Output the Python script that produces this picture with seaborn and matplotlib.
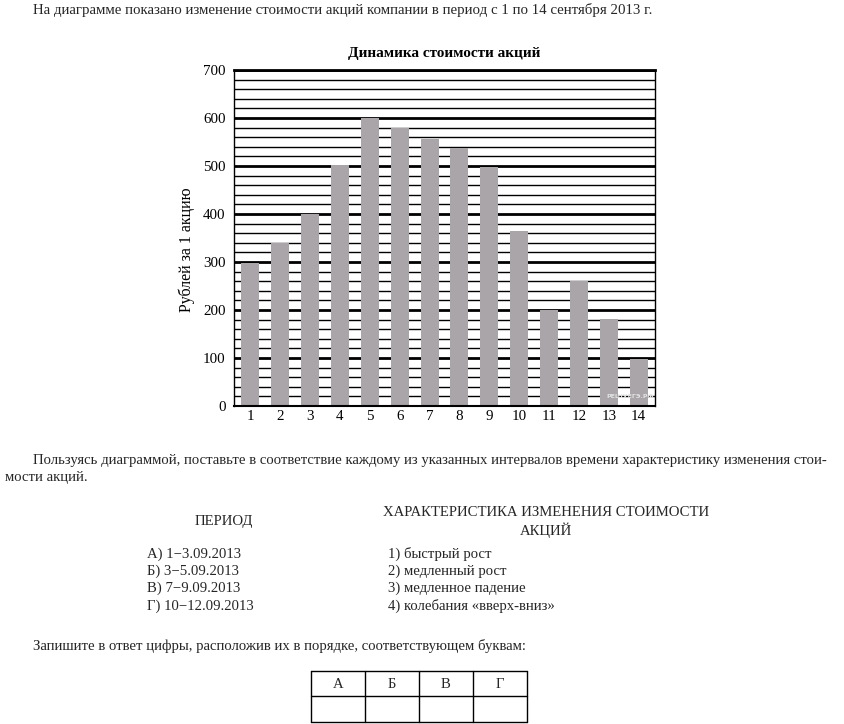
import matplotlib
matplotlib.use("Agg")
import matplotlib.pyplot as plt
from matplotlib.lines import Line2D
import seaborn as sns
import pandas as pd
import numpy as np

days = [str(i) for i in range(1, 15)]
prices = [298, 340, 400, 502, 600, 580, 557, 537, 498, 364, 200, 260, 181, 97]
y_major = list(range(0, 701, 100))
y_minor = list(range(0, 701, 20))

intro = "На диаграмме показано изменение стоимости акций компании в период с 1 по 14 сентября 2013 г."
chart_title = "Динамика стоимости акций"
y_label = "Рублей за 1 акцию"
para1 = "Пользуясь диаграммой, поставьте в соответствие каждому из указанных интервалов времени характеристику изменения стои-"
para2 = "мости акций."
col_left = "ПЕРИОД"
col_right = ["ХАРАКТЕРИСТИКА ИЗМЕНЕНИЯ СТОИМОСТИ", "АКЦИЙ"]
periods = ["А) 1\u22123.09.2013", "Б) 3\u22125.09.2013", "В) 7\u22129.09.2013", "Г) 10\u221212.09.2013"]
features = ["1) быстрый рост", "2) медленный рост", "3) медленное падение", "4) колебания «вверх-вниз»"]
answer_prompt = "Запишите в ответ цифры, расположив их в порядке, соответствующем буквам:"
letters = ["А", "Б", "В", "Г"]

sns.set_theme(style="white")
plt.rcParams['font.family'] = ['Liberation Serif', 'DejaVu Serif']

W, H = 845, 724
fig = plt.figure(figsize=(W / 100, H / 100), dpi=100)
fig.patch.set_facecolor("white")

def fx(px):
    return px / W

def fy(py):
    return 1 - py / H

ax = fig.add_axes([fx(234), fy(406), fx(655) - fx(234), fy(70) - fy(406)])
df = pd.DataFrame({"day": days, "price": prices})
sns.barplot(data=df, x="day", y="price", color="#a9a5a8", width=0.6,
            saturation=1, ax=ax, edgecolor="none")
ax.set_xlim(-0.55, len(days) - 0.45)
ax.set_ylim(0, 700)
ax.set_yticks(y_major)
ax.set_yticks(y_minor, minor=True)
ax.set_axisbelow(True)
ax.grid(which="major", axis="y", color="black", lw=2.0)
ax.grid(which="minor", axis="y", color="black", lw=1.0)
ax.grid(axis="x", visible=False)
ax.tick_params(axis="both", which="both", length=0, labelsize=10.8, colors="black")
ax.tick_params(axis="y", pad=6)
ax.tick_params(axis="x", pad=3)
ax.set_xlabel("")
ax.set_ylabel(y_label, fontsize=11.5, color="black")
ax.yaxis.set_label_coords(-0.093, 0.464)
ax.set_title(chart_title, fontsize=11, fontweight="bold", color="black", pad=9)
for s in ax.spines.values():
    s.set_visible(True)
    s.set_color("black")
    s.set_linewidth(1.0)
ax.spines["bottom"].set_linewidth(1.5)
ax.spines["top"].set_linewidth(2.0)
ax.text(0.997, 0.02, "РЕШУЕГЭ.РФ", transform=ax.transAxes, ha="right", va="bottom",
        fontsize=4.5, color="#e4e4e4", family="DejaVu Sans", fontweight="bold")

fs = 10.6
fig.text(fx(33), fy(10), intro, fontsize=10.75, ha="left", va="center")
fig.text(fx(33), fy(460), para1, fontsize=fs, ha="left", va="center")
fig.text(fx(5), fy(477), para2, fontsize=fs, ha="left", va="center")
fig.text(fx(224), fy(521), col_left, fontsize=fs, ha="center", va="center")
fig.text(fx(546), fy(513), col_right[0], fontsize=fs, ha="center", va="center")
fig.text(fx(546), fy(530), col_right[1], fontsize=fs, ha="center", va="center")
for i, (p, f) in enumerate(zip(periods, features)):
    yy = 554 + i * 17.3
    fig.text(fx(147), fy(yy), p, fontsize=fs, ha="left", va="center")
    fig.text(fx(388), fy(yy), f, fontsize=fs, ha="left", va="center")
fig.text(fx(33), fy(646), answer_prompt, fontsize=fs, ha="left", va="center")

# answer table
tx = [311, 365, 419, 473, 527]
ty = [671, 696, 722]
for x in tx:
    fig.add_artist(Line2D([fx(x), fx(x)], [fy(ty[0]), fy(ty[-1])], color="black", lw=1.0))
for y in ty:
    fig.add_artist(Line2D([fx(tx[0]), fx(tx[-1])], [fy(y), fy(y)], color="black", lw=1.0))
for i, l in enumerate(letters):
    fig.text(fx((tx[i] + tx[i + 1]) / 2), fy(684), l, fontsize=fs, ha="center", va="center")

fig.savefig("out.png", dpi=100, facecolor="white")
